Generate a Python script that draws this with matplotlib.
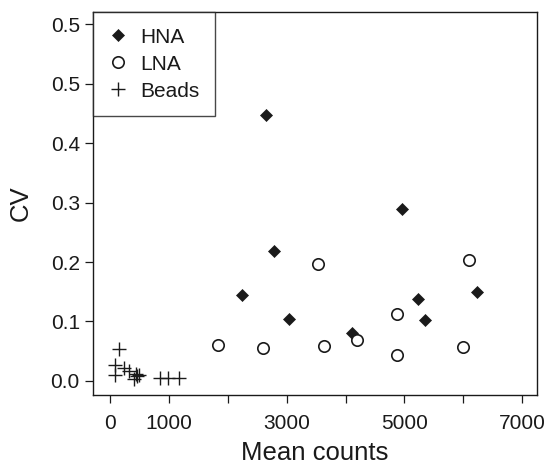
import matplotlib
matplotlib.use("Agg")
import matplotlib.pyplot as plt

plt.rcParams["font.family"] = ["Liberation Sans", "DejaVu Sans"]

# HNA (filled diamonds)
hna_x = [2654, 4958, 6231, 5234, 5343, 2790, 2246, 3039, 4103]
hna_y = [0.448, 0.289, 0.150, 0.138, 0.102, 0.219, 0.144, 0.104, 0.081]

# LNA (open circles)
lna_x = [3526, 6100, 4878, 4188, 3633, 2598, 1828, 4867, 5999]
lna_y = [0.196, 0.203, 0.113, 0.0685, 0.058, 0.0556, 0.0606, 0.043, 0.057]

# Beads (plus signs)
beads_x = [158, 90, 90, 238, 328, 407, 453, 498, 441, 849, 979, 1177]
beads_y = [0.053, 0.0276, 0.0096, 0.0209, 0.016, 0.003, 0.0084, 0.0096,
           0.0124, 0.005, 0.005, 0.005]

x_ticks = [0, 1000, 2000, 3000, 4000, 5000, 6000, 7000]
x_labels = ["0", "1000", "", "3000", "", "5000", "", "7000"]
y_ticks = [0.0, 0.1, 0.2, 0.3, 0.4, 0.5, 0.6]
y_labels = ["0.0", "0.1", "0.2", "0.3", "0.4", "0.5", "0.5"]

ink = "#1a1a1a"

fig = plt.figure(figsize=(5.47, 4.66), dpi=100)
ax = fig.add_axes([0.170, 0.152, 0.8117, 0.822])

ax.plot(hna_x, hna_y, linestyle="none", marker="D", markersize=6.2,
        color=ink, markeredgewidth=0.5, label="HNA")
ax.plot(lna_x, lna_y, linestyle="none", marker="o", markersize=8.2,
        markerfacecolor="white", markeredgecolor=ink, markeredgewidth=1.2,
        label="LNA")
ax.plot(beads_x, beads_y, linestyle="none", marker="+", markersize=9.5,
        color=ink, markeredgewidth=1.0, label="Beads")

ax.set_xlim(-289, 7250)
ax.set_ylim(-0.024, 0.6207)

ax.set_xticks(x_ticks)
ax.set_xticklabels(x_labels)
ax.set_yticks(y_ticks)
ax.set_yticklabels(y_labels)

ax.tick_params(axis="both", direction="out", length=5.5, width=0.9,
               color=ink, labelcolor=ink, labelsize=15)
ax.tick_params(axis="x", pad=8)
ax.tick_params(axis="y", pad=4)

for sp in ax.spines.values():
    sp.set_color(ink)
    sp.set_linewidth(1.0)

ax.set_xlabel("Mean counts", fontsize=18.5, color=ink, labelpad=5.5)
ax.set_ylabel("CV", fontsize=18.5, color=ink, labelpad=13)

leg = ax.legend(loc="upper left", borderaxespad=0, fontsize=15,
                frameon=True, fancybox=False, handlelength=0.9,
                handletextpad=0.6, labelspacing=0.38, borderpad=0.75)
leg.get_frame().set_edgecolor(ink)
leg.get_frame().set_linewidth(1.0)
for t in leg.get_texts():
    t.set_color(ink)

fig.savefig("out.png", dpi=100)
